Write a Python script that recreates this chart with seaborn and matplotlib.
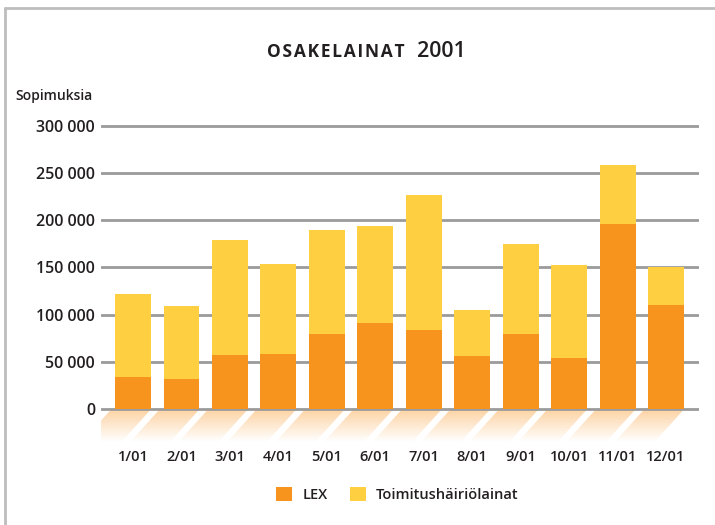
import numpy as np
import pandas as pd
import matplotlib
matplotlib.use("Agg")
import matplotlib.pyplot as plt
from matplotlib.patches import Polygon, Patch
from matplotlib.lines import Line2D
import seaborn as sns

# Monthly loan contracts 2001
months = ["1/01", "2/01", "3/01", "4/01", "5/01", "6/01",
          "7/01", "8/01", "9/01", "10/01", "11/01", "12/01"]
lex = [34000, 32000, 57500, 59000, 79500, 91000,
       84000, 56500, 80000, 54000, 196000, 110500]
toimitus = [88000, 77000, 121500, 95000, 110000, 103000,
            142500, 48500, 95000, 98500, 62500, 40000]
yticks = [0, 50000, 100000, 150000, 200000, 250000, 300000]

LEX_COLOR = "#F7941E"
TOIM_COLOR = "#FDCF41"
GRID_COLOR = "#9b9b9b"
TEXT_COLOR = "#231f20"

df = pd.DataFrame({"month": months, "lex": lex, "toimitus": toimitus})
df["total"] = df["lex"] + df["toimitus"]

sns.set_theme(style="white")
plt.rcParams["font.family"] = ["Open Sans", "DejaVu Sans"]

fig = plt.figure(figsize=(7.15, 5.25), dpi=100)
ax = fig.add_axes([0.1408, 0.1554, 0.8368, 0.6145])

bar_w = 0.74
sns.barplot(data=df, x="month", y="total", color=TOIM_COLOR, saturation=1,
            width=bar_w, ax=ax, zorder=3, errorbar=None, linewidth=0)
sns.barplot(data=df, x="month", y="lex", color=LEX_COLOR, saturation=1,
            width=bar_w, ax=ax, zorder=4, errorbar=None, linewidth=0)

# grid lines at the y ticks only
for v in yticks:
    ax.axhline(v, color=GRID_COLOR, lw=2, zorder=2)

# decorative slanted fading stripes below each bar
grad = np.linspace(1, 0, 64).reshape(-1, 1)
cmap = matplotlib.colors.LinearSegmentedColormap.from_list(
    "fade", ["#ffffff", "#fdd3a4"])
depth = -34000
shift = 0.6
for i in range(len(months)):
    x0, x1 = i - bar_w / 2 - 0.08, i + bar_w / 2
    poly = Polygon([(x0, 0), (x1, 0), (x1 - shift, depth), (x0 - shift, depth)],
                   closed=True, facecolor="none", edgecolor="none",
                   transform=ax.transData)
    ax.add_patch(poly)
    im = ax.imshow(grad, cmap=cmap, aspect="auto", vmin=0, vmax=1,
                   extent=(x0 - shift, x1, depth, 0), zorder=1,
                   interpolation="bilinear")
    im.set_clip_path(poly)
ax.set_xlim(-0.667, 11.68)
ax.set_ylim(-36000, 305000)

ax.set_yticks(yticks)
ax.set_yticklabels([f"{v:,}".replace(",", " ") for v in yticks])
ax.tick_params(axis="y", length=0, pad=4, labelsize=11.5, labelcolor=TEXT_COLOR)
for lbl in ax.get_yticklabels():
    lbl.set_fontweight("semibold")
ax.tick_params(axis="x", length=0, pad=5, labelsize=10.5, labelcolor=TEXT_COLOR)
for lbl in ax.get_xticklabels():
    lbl.set_fontweight("semibold")
ax.set_xlabel("")
ax.set_ylabel("")
sns.despine(ax=ax, left=True, bottom=True)

# titles
fig.text(0.021, 0.818, "Sopimuksia", fontsize=10, fontweight="semibold",
         color=TEXT_COLOR, ha="left", va="center")
fig.text(0.566, 0.891, "O S A K E L A I N A T".replace(" ", "\u200a"),
         fontsize=12.5, fontweight="bold", color=TEXT_COLOR,
         ha="right", va="baseline")
fig.text(0.583, 0.891, "2001", fontsize=15.5, fontweight="semibold",
         color=TEXT_COLOR, ha="left", va="baseline")

# legend
handles = [Patch(facecolor=LEX_COLOR, edgecolor="none", label="LEX"),
           Patch(facecolor=TOIM_COLOR, edgecolor="none", label="Toimitushäiriölainat")]
leg = fig.legend(handles=handles, loc="center", bbox_to_anchor=(0.556, 0.059),
                 ncol=2, frameon=False, handlelength=1.1, handleheight=1.1,
                 handletextpad=0.7, columnspacing=1.5,
                 prop={"size": 10.5, "weight": "semibold"})
for t in leg.get_texts():
    t.set_color(TEXT_COLOR)

# frame lines (left and top)
fig.add_artist(Line2D([5 / 715, 5 / 715], [0, 1 - 8 / 525],
                      transform=fig.transFigure, color="#bdbdbd", lw=2))
fig.add_artist(Line2D([5 / 715, 1], [1 - 8 / 525, 1 - 8 / 525],
                      transform=fig.transFigure, color="#bdbdbd", lw=2))

fig.savefig("out.png", dpi=100, facecolor="white")
